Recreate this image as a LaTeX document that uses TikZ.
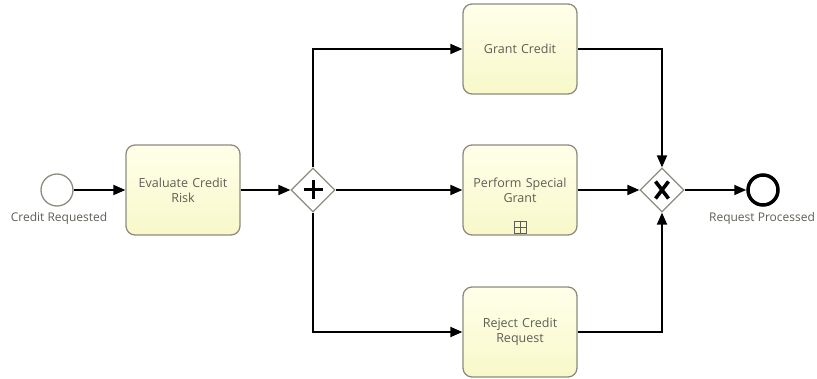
\documentclass[tikz,border=0pt]{standalone}
\usepackage{fontspec}
\setmainfont{Open Sans}
\usetikzlibrary{arrows.meta,shapes.geometric,calc}
\definecolor{taskfillA}{HTML}{FFFFEA}
\definecolor{taskfillB}{HTML}{F8F8CA}
\definecolor{taskline}{HTML}{8C8C80}
\definecolor{labeltext}{HTML}{5E5E56}
\tikzset{
  task/.style={draw=taskline, line width=1.3pt, rounded corners=9pt,
    top color=taskfillA, bottom color=taskfillB,
    minimum width=114pt, minimum height=90pt, inner sep=2pt,
    align=center, text width=108pt, font=\fontsize{12.5}{15}\selectfont, text=labeltext},
  gateway/.style={draw=taskline, line width=1.2pt, fill=white, diamond,
    minimum width=44pt, minimum height=44pt, inner sep=0pt},
  startev/.style={circle, draw=taskline, line width=1.3pt, fill=white, minimum size=32pt, inner sep=0pt},
  endev/.style={circle, draw=black, line width=3.5pt, fill=white, minimum size=30pt, inner sep=0pt},
  evlabel/.style={font=\fontsize{12}{14}\selectfont, text=labeltext},
  flow/.style={draw=black, line width=1.8pt, -{Triangle[length=12pt,width=10pt]}},
}
\begin{document}
\begin{tikzpicture}[x=1pt,y=-1pt]
\useasboundingbox (0,0) rectangle (817,379);

% events
\node[startev] (start) at (57,190) {};
\node[evlabel] (startlbl) at (59,218) {Credit Requested};
\node[endev] (end) at (763,190) {};
\node[evlabel] (endlbl) at (762,218) {Request Processed};

% tasks
\node[task] (eval) at (183,190) {Evaluate Credit\\Risk};
\node[task] (grant) at (520,49) {Grant Credit};
\node[task] (special) at (520,190) {Perform Special\\Grant};
\node[task] (reject) at (520,332) {Reject Credit\\Request};

% collapsed sub-process marker
\node[draw=labeltext, line width=0.9pt, minimum size=12pt, inner sep=0pt] (marker) at (520,227) {};
\draw[labeltext, line width=0.9pt] (marker.north) -- (marker.south) (marker.west) -- (marker.east);

% gateways
\node[gateway] (split) at (313,190) {};
\draw[black, line width=3pt] ($(split)+(-9.5,0)$) -- ($(split)+(9.5,0)$) ($(split)+(0,-9.5)$) -- ($(split)+(0,9.5)$);
\node[gateway] (merge) at (662,190) {};
\draw[black, line width=3.6pt] ($(merge)+(-6.5,-8.5)$) -- ($(merge)+(6.5,8.5)$) ($(merge)+(6.5,-8.5)$) -- ($(merge)+(-6.5,8.5)$);

% sequence flows
\draw[flow] (start) -- (eval);
\draw[flow] (eval) -- (split);
\draw[flow] (split.north) |- (grant.west);
\draw[flow] (split) -- (special);
\draw[flow] (split.south) |- (reject.west);
\draw[flow] (grant.east) -| (merge.north);
\draw[flow] (special) -- (merge);
\draw[flow] (reject.east) -| (merge.south);
\draw[flow] (merge) -- (end);
\end{tikzpicture}
\end{document}
